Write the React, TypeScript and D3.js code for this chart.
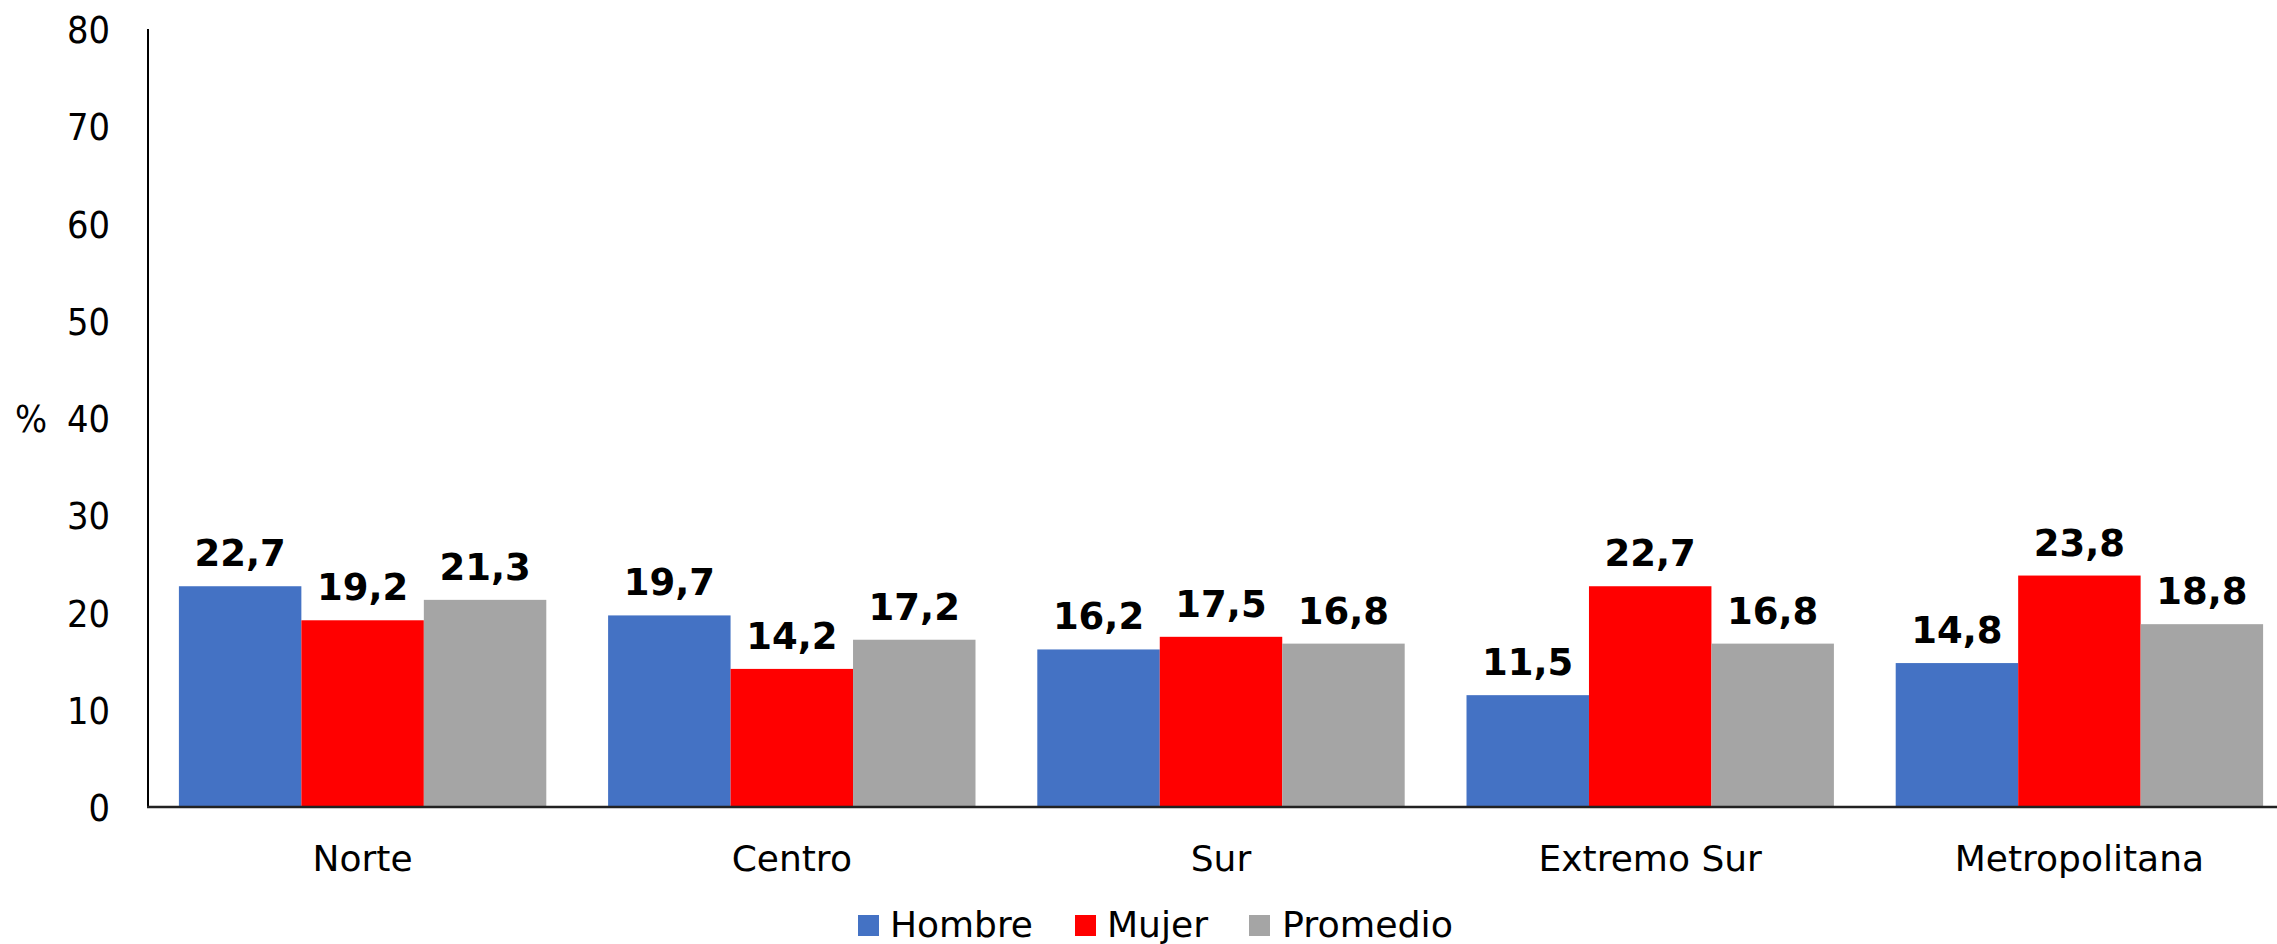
import React from "react";
import * as d3 from "d3";

const categories = ["Norte", "Centro", "Sur", "Extremo Sur", "Metropolitana"];
const seriesNames = ["Hombre", "Mujer", "Promedio"];
const hombre = [22.7, 19.7, 16.2, 11.5, 14.8];
const mujer = [19.2, 14.2, 17.5, 22.7, 23.8];
const promedio = [21.3, 17.2, 16.8, 16.8, 18.8];
const colors = ["#4472C4", "#FF0000", "#A5A5A5"];
const yTicks = [0, 10, 20, 30, 40, 50, 60, 70, 80];

const W = 2277;
const H = 944;
const FONT = "'DejaVu Sans', Verdana, sans-serif";
const SX = 0.89;

export default function App() {
  const series = [hombre, mujer, promedio];
  const x0 = d3.scaleBand<string>().domain(categories).range([148, 2294]).paddingInner(0.144).paddingOuter(0.072);
  const x1 = d3.scaleBand<string>().domain(seriesNames).range([0, x0.bandwidth()]).padding(0);
  const y = d3.scaleLinear().domain([0, 80]).range([807, 29]);
  const fmt = (v: number) => v.toFixed(1).replace(".", ",");

  const legendItems = [
    { sq: 858, tx: 890, w: 143 },
    { sq: 1075, tx: 1107, w: 101 },
    { sq: 1249, tx: 1282, w: 171 },
  ];

  return (
    <svg width={W} height={H} style={{ position: "absolute", left: 0, top: 0, background: "#fff" }} fontFamily={FONT}>
      {yTicks.map((t) => (
        <text key={t} transform={`translate(110,${y(t) + 14}) scale(${SX},1)`} textAnchor="end" fontSize={38} fill="#000">
          {t}
        </text>
      ))}
      <text transform={`translate(15,${y(40) + 14}) scale(${SX},1)`} fontSize={38} fill="#000">%</text>
      {categories.map((c, ci) =>
        series.map((s, si) => {
          const xx = (x0(c) as number) + (x1(seriesNames[si]) as number);
          const bw = x1.bandwidth();
          return (
            <g key={c + si}>
              <rect x={xx} y={y(s[ci])} width={bw} height={y(0) - y(s[ci])} fill={colors[si]} />
              <text x={xx + bw / 2} y={y(s[ci]) - 20} textAnchor="middle" fontSize={37} fontWeight="bold" fill="#000">
                {fmt(s[ci])}
              </text>
            </g>
          );
        })
      )}
      <line x1={148} x2={148} y1={29} y2={807} stroke="#000" strokeWidth={2} />
      <line x1={147} x2={2294} y1={807} y2={807} stroke="#222" strokeWidth={2.5} />
      {categories.map((c) => (
        <text key={c} x={(x0(c) as number) + x0.bandwidth() / 2} y={871} textAnchor="middle" fontSize={36} fill="#000">
          {c}
        </text>
      ))}
      {seriesNames.map((n, i) => (
        <g key={n}>
          <rect x={legendItems[i].sq} y={915} width={21} height={21} fill={colors[i]} />
          <text x={legendItems[i].tx} y={937} fontSize={36} fill="#000" textLength={legendItems[i].w} lengthAdjust="spacingAndGlyphs">
            {n}
          </text>
        </g>
      ))}
    </svg>
  );
}
